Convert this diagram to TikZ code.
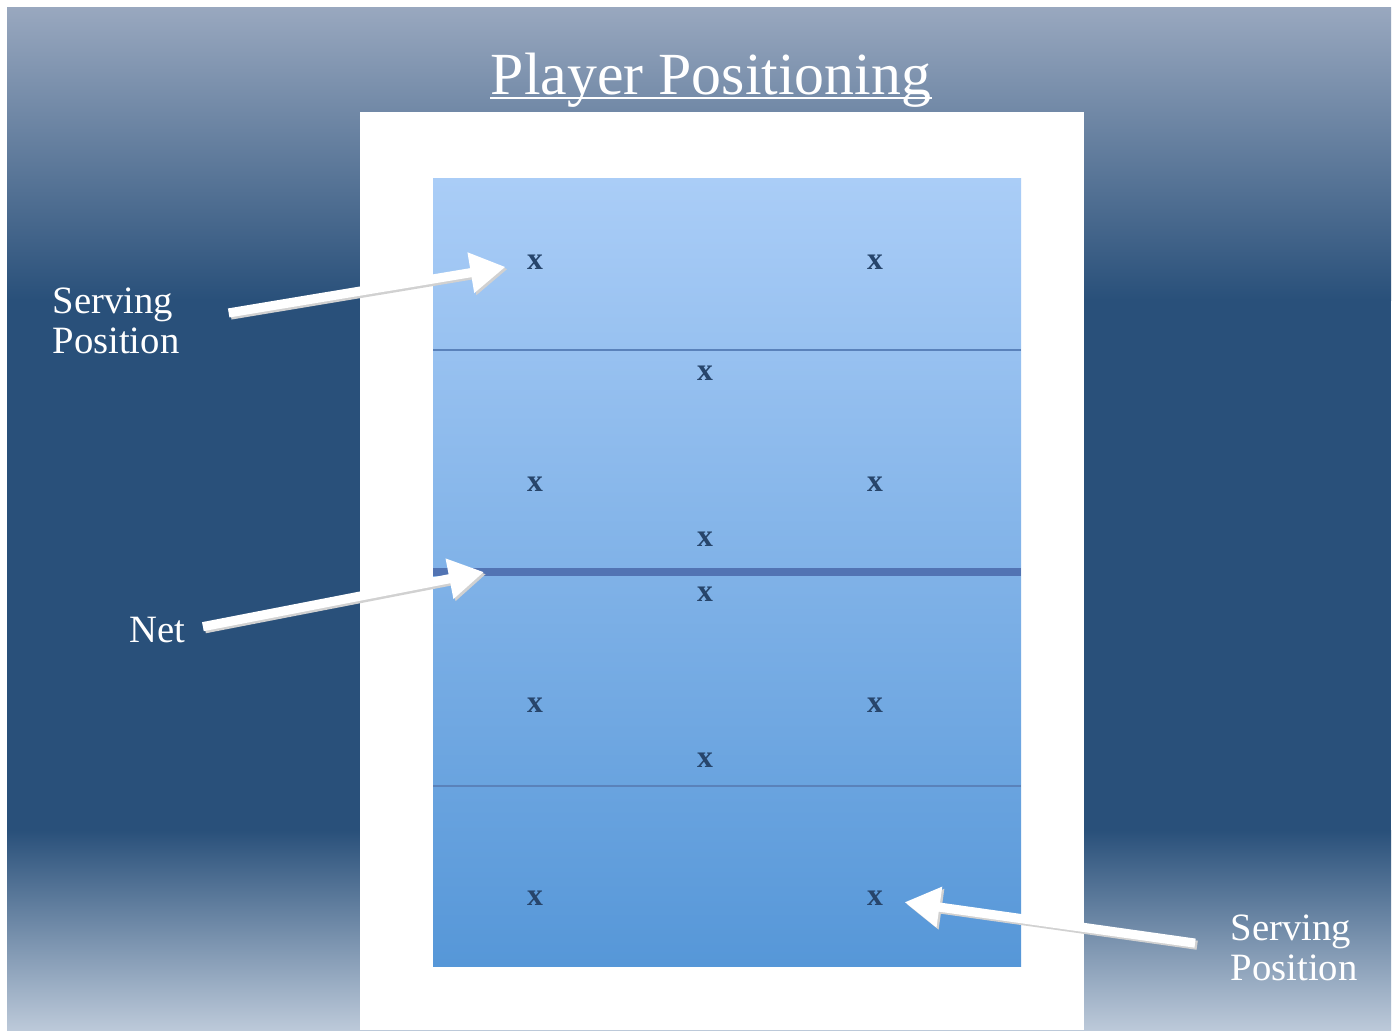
\documentclass[tikz,border=0pt]{standalone}
\usepackage{fontspec}
\setmainfont{Liberation Serif}
\usetikzlibrary{arrows.meta}
\definecolor{bgtop}{HTML}{99A8BF}
\definecolor{bgdark}{HTML}{29507A}
\definecolor{bgbot}{HTML}{BCC9D9}
\definecolor{courttop}{HTML}{AACDF7}
\definecolor{courtbot}{HTML}{5697D8}
\definecolor{courtline}{HTML}{5A82BA}
\definecolor{netblue}{HTML}{5274B3}
\definecolor{xblue}{HTML}{27456B}

\begin{document}
\begin{tikzpicture}[x=0.01cm, y=-0.01cm,
    xmark/.style={text=xblue, font=\fontsize{9}{9}\selectfont\bfseries, inner sep=1pt},
    sidetext/.style={text=white, font=\fontsize{11}{11.5}\selectfont, align=left, inner sep=0pt},
    pointer/.style={white, line width=2.6pt, -{Triangle[length=10pt, width=11pt]}},
    pointershade/.style={pointer, black!18, transform canvas={shift={(0.6pt,-0.6pt)}}}]
    \useasboundingbox (0,0) rectangle (1398,1030);
    \fill[white] (0,0) rectangle (1398,1030);
    % backdrop
    \shade[top color=bgtop, bottom color=bgdark] (7,7) rectangle (1391,300);
    \fill[bgdark] (7,299) rectangle (1391,831);
    \shade[top color=bgdark, bottom color=bgbot] (7,830) rectangle (1391,1030);
    \fill[white] (360,112) rectangle (1084,1030);

    % court
    \shade[top color=courttop, bottom color=courtbot] (433,178) rectangle (1021,966);
    \draw[courtline, line width=0.6pt] (433,350) -- (1021,350);
    \draw[netblue, line width=2pt] (433,572) -- (1021,572);
    \draw[courtline, line width=0.6pt] (433,786) -- (1021,786);
    \coordinate (netend) at (484,572);

    \node[text=white, font=\fontsize{17}{17}\selectfont, inner sep=0pt, anchor=base] (title) at (711,94) {Player Positioning};
    \draw[white, line width=0.7pt] ([yshift=-1.2pt]title.base west) -- ([yshift=-1.2pt]title.base east);

    % players
    \node[xmark] (p1) at (535,262) {x};
    \node[xmark] (p2) at (875,262) {x};
    \node[xmark] (p3) at (705,373) {x};
    \node[xmark] (p4) at (535,484) {x};
    \node[xmark] (p5) at (875,484) {x};
    \node[xmark] (p6) at (705,539) {x};
    \node[xmark] (p7) at (705,594) {x};
    \node[xmark] (p8) at (535,705) {x};
    \node[xmark] (p9) at (875,705) {x};
    \node[xmark] (p10) at (705,760) {x};
    \node[xmark] (p11) at (535,898) {x};
    \node[xmark] (p12) at (875,898) {x};

    % labels
    \node[sidetext] (srvL) at (116,321) {Serving\\Position};
    \node[sidetext] (netlab) at (157,630) {Net};
    \node[sidetext] (srvR) at (1294,948) {Serving\\Position};

    \draw[pointershade, shorten <=14pt, shorten >=5pt] (srvL.east) -- (p1);
    \draw[pointer, shorten <=14pt, shorten >=5pt] (srvL.east) -- (p1);
    \draw[pointershade, shorten <=5pt] (netlab.east) -- (netend);
    \draw[pointer, shorten <=5pt] (netlab.east) -- (netend);
    \draw[pointershade, shorten <=10pt, shorten >=5pt] (srvR.west) -- (p12);
    \draw[pointer, shorten <=10pt, shorten >=5pt] (srvR.west) -- (p12);
\end{tikzpicture}
\end{document}
